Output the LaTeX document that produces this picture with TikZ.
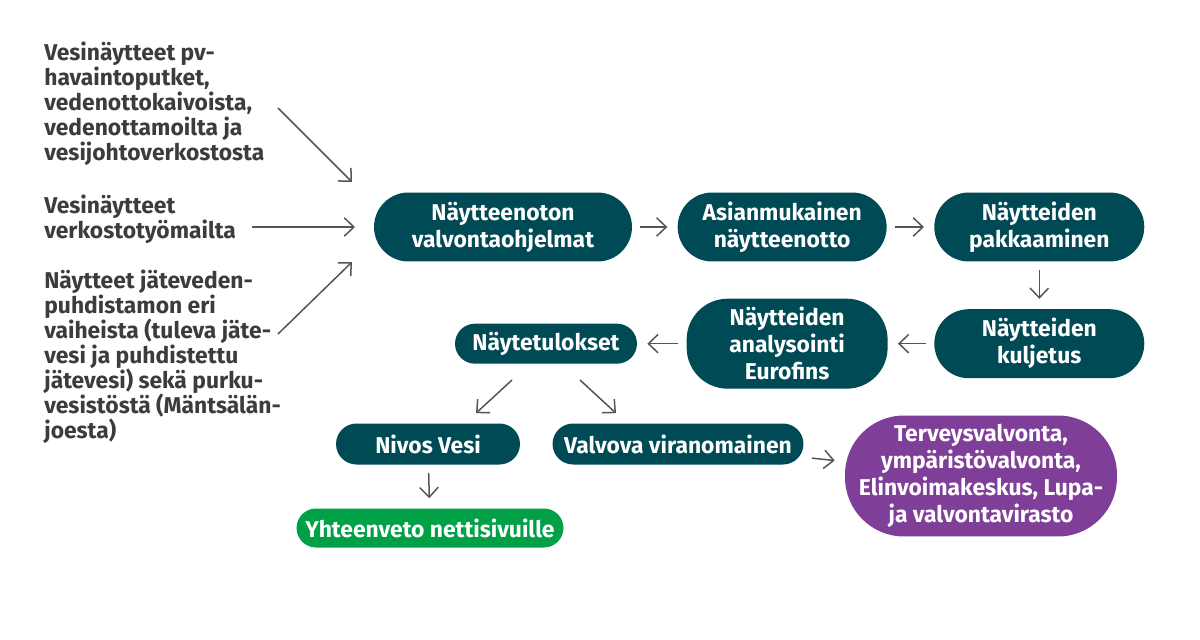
\documentclass[tikz,border=0pt]{standalone}
\usepackage{fontspec}
\setmainfont{Fira Sans}
\usetikzlibrary{positioning,arrows.meta,calc}
\definecolor{petrol}{HTML}{004A55}
\definecolor{lilac}{HTML}{7F3F98}
\definecolor{leaf}{HTML}{00A046}
\definecolor{ink}{HTML}{3C3C3C}
\definecolor{wire}{HTML}{555555}

\begin{document}
\begin{tikzpicture}[
  x=0.02cm, y=-0.02cm,
  font=\fontsize{13}{15.4}\selectfont\bfseries,
  box/.style={fill=petrol, text=white, align=center, inner sep=0pt, minimum height=1.38cm, rounded corners=0.69cm},
  src/.style={anchor=north west, align=left, text=ink, inner sep=0pt, font=\fontsize{13}{14.2}\selectfont\bfseries},
  flow/.style={draw=wire, line width=0.85pt, -{Straight Barb[length=5.5pt,width=10.5pt]}},
  link/.style={flow, shorten <=0.16cm, shorten >=0.2cm}]
\useasboundingbox[fill=white] (0,0) rectangle (1200,639);
% sample sources
\node[src] (src1) at (44,42) {Vesinäytteet pv-\\havaintoputket,\\vedenottokaivoista,\\vedenottamoilta ja\\vesijohtoverkostosta};
\node[src] (src2) at (44,195) {Vesinäytteet\\verkostotyömailta};
\node[src] (src3) at (44,270) {Näytteet jäteveden-\\puhdistamon eri\\vaiheista (tuleva jäte-\\vesi ja puhdistettu\\jätevesi) sekä purku-\\vesistöstä (Mäntsälän-\\joesta)};
% chain
\node[box, minimum width=5.16cm] (prog) at (503,227) {Näytteenoton\\valvontaohjelmat};
\node[box, minimum width=4.18cm, right=0.9cm of prog] (take) {Asianmukainen\\näytteenotto};
\node[box, minimum width=4.2cm, right=0.94cm of take] (pack) {Näytteiden\\pakkaaminen};
\node[box, minimum width=4.2cm, below=0.94cm of pack] (ship) {Näytteiden\\kuljetus};
\node[box, minimum width=4.02cm, minimum height=1.8cm, rounded corners=0.82cm, left=0.92cm of ship] (lab) {Näytteiden\\analysointi\\Eurofins};
\node[box, minimum width=3.64cm, minimum height=0.8cm, rounded corners=0.4cm, left=0.98cm of lab] (res) {Näytetulokset};
\node[box, minimum width=3.68cm, minimum height=0.82cm, rounded corners=0.41cm] (nivos) at (428,444) {Nivos Vesi};
\node[box, minimum width=5.02cm, minimum height=0.82cm, rounded corners=0.41cm] (auth) at (678,444) {Valvova viranomainen};
\node[box, fill=lilac, minimum width=5.44cm, minimum height=2.42cm, rounded corners=1.18cm] (agency) at (981,476) {Terveysvalvonta,\\ympäristövalvonta,\\Elinvoimakeskus, Lupa-\\ja valvontavirasto};
\node[box, fill=leaf, minimum width=5.34cm, minimum height=0.78cm, rounded corners=0.39cm] (web) at (430,528) {Yhteenveto nettisivuille};
% incoming arrows
\coordinate (s1) at (278,108);
\coordinate (e1) at (352,182);
\coordinate (s2) at (252,227);
\coordinate (e2) at (355,227);
\coordinate (s3) at (278,334);
\coordinate (e3) at (352,262);
\draw[flow] (s1) -- (e1);
\draw[flow] (s2) -- (e2);
\draw[flow] (s3) -- (e3);
\draw[link] (prog) -- (take);
\draw[link] (take) -- (pack);
\draw[link] (pack) -- (ship);
\draw[link] (ship) -- (lab);
\draw[link] (lab) -- (res);
\draw[flow] ($(res.south)+(-34,16)$) -- ($(nivos.north)+(48,-10)$);
\draw[flow] ($(res.south)+(34,16)$) -- ($(auth.north)+(-62,-10)$);
\draw[link] (nivos) -- (web);
\draw[link] (auth) -- (agency);
\end{tikzpicture}
\end{document}
